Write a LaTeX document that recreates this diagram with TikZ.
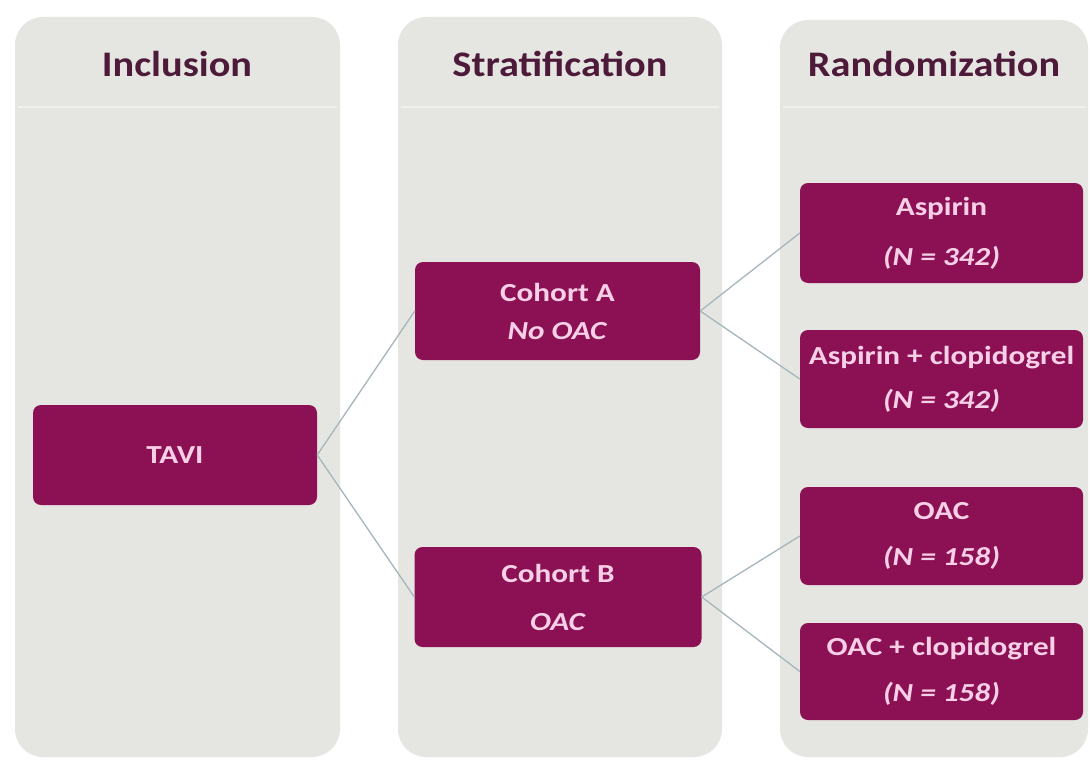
\documentclass[tikz,border=0pt]{standalone}
\usepackage{fontspec}
\setmainfont{Carlito}
\newfontfamily\boxfont{Carlito}[FakeStretch=1.2]
\newfontfamily\headfont{Carlito}[FakeStretch=1.12]
\begin{document}
\begin{tikzpicture}[x=1pt,y=-1pt,
  panel/.style={fill=panelgray, draw=none, rounded corners=28pt},
  header/.style={font=\headfont\fontsize{36}{40}\selectfont\bfseries, text=headtext, anchor=center},
  box/.style={fill=boxred, rounded corners=8pt, text=boxtext, align=center, inner sep=0pt,
    font=\boxfont\fontsize{26}{46}\selectfont\bfseries},
  link/.style={draw=linkgray, line width=1.3pt}
]
\definecolor{panelgray}{RGB}{229,230,225}
\definecolor{headtext}{RGB}{78,26,58}
\definecolor{boxred}{RGB}{140,17,84}
\definecolor{boxtext}{RGB}{247,208,232}
\definecolor{linkgray}{RGB}{165,182,188}
\definecolor{sepline}{RGB}{240,241,237}
\useasboundingbox (0,0) rectangle (1091,760);
\fill[white] (0,0) rectangle (1091,760);
% panels
\path[panel] (15,17) rectangle (340,757);
\path[panel] (398,17) rectangle (722,757);
\path[panel] (780,20) rectangle (1088,757);
\draw[sepline, line width=1.5pt] (18,107) -- (337,107);
\draw[sepline, line width=1.5pt] (401,107) -- (719,107);
\draw[sepline, line width=1.5pt] (783,107) -- (1085,107);
% headers
\node[header] (h1) at (177,64) {Inclusion};
\node[header] (h2) at (560,64) {Stratification};
\node[header] (h3) at (934,64) {Randomization};
% boxes
\node[box, minimum width=284pt, minimum height=100pt] (tavi) at (175,455) {TAVI};
\node[box, minimum width=285pt, minimum height=98pt, font=\boxfont\fontsize{26}{38}\selectfont\bfseries] (ca) at (557.5,311) {Cohort A\\\textit{No OAC}};
\node[box, minimum width=287pt, minimum height=100pt, font=\boxfont\fontsize{26}{48}\selectfont\bfseries] (cb) at (558,597) {Cohort B\\\textit{OAC}};
\node[box, minimum width=283pt, minimum height=100pt, font=\boxfont\fontsize{26}{50}\selectfont\bfseries] (asp) at (941.5,233) {Aspirin\\\textit{(N = 342)}};
\node[box, minimum width=283pt, minimum height=98pt, font=\boxfont\fontsize{26}{44}\selectfont\bfseries] (aspc) at (941.5,379) {Aspirin + clopidogrel\\\textit{(N = 342)}};
\node[box, minimum width=283pt, minimum height=98pt] (oac) at (941.5,536) {OAC\\\textit{(N = 158)}};
\node[box, minimum width=283pt, minimum height=97pt] (oacc) at (941.5,671.5) {OAC + clopidogrel\\\textit{(N = 158)}};
% connectors
\draw[link] (tavi.east) -- (ca.west);
\draw[link] (tavi.east) -- (cb.west);
\draw[link] (ca.east) -- (asp.west);
\draw[link] (ca.east) -- (aspc.west);
\draw[link] (cb.east) -- (oac.west);
\draw[link] (cb.east) -- (oacc.west);
\end{tikzpicture}
\end{document}
